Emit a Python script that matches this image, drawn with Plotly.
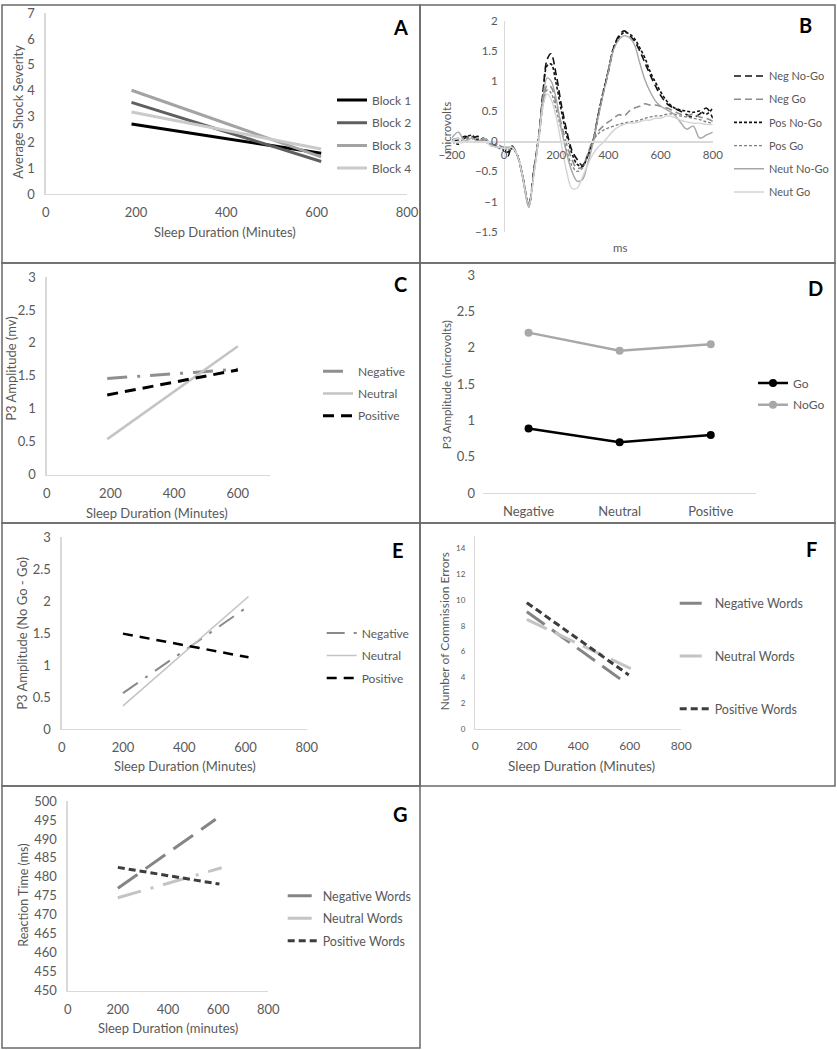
import plotly.graph_objects as go

W, H = 837, 1050

# ---------------- Panel A: shock severity by block
a_x = [190, 610]
a_block1 = [2.71, 1.58]
a_block2 = [3.55, 1.26]
a_block3 = [4.02, 1.44]
a_block4 = [3.18, 1.74]

# ---------------- Panel B: ERP waveforms
b_ms = [-200, -175, -150, -125, -100, -75, -50, -25, 0, 15, 30, 50, 70, 95,
        115, 135, 150, 165, 180, 200, 220, 240, 260, 280, 300, 320, 340, 360,
        380, 400, 420, 440, 460, 480, 500, 520, 540, 560, 580, 600, 625, 650,
        675, 700, 725, 750, 775, 800]
b_neg_nogo = [0.0, 0.02, 0.08, 0.04, 0.08, 0.0, -0.05, -0.1, -0.12, -0.25, -0.08, -0.22, -0.55, -1.05,
              -0.45, 0.15, 0.85, 1.35, 1.45, 1.1, 0.6, 0.18, -0.15, -0.3, -0.4, -0.25, -0.02, 0.4,
              0.8, 1.15, 1.55, 1.75, 1.83, 1.76, 1.66, 1.5, 1.3, 1.1, 0.92, 0.76, 0.62, 0.55,
              0.5, 0.44, 0.4, 0.45, 0.55, 0.38]
b_neg_go = [0.02, 0.05, 0.0, 0.08, 0.0, 0.02, -0.05, -0.08, -0.1, -0.15, -0.1, -0.22, -0.55, -1.05,
            -0.5, 0.1, 0.62, 0.92, 0.9, 0.62, 0.28, -0.05, -0.3, -0.45, -0.42, -0.22, 0.02, 0.16,
            0.25, 0.32, 0.38, 0.44, 0.42, 0.5, 0.55, 0.58, 0.62, 0.6, 0.6, 0.58, 0.55, 0.5,
            0.45, 0.42, 0.45, 0.4, 0.38, 0.33]
b_pos_nogo = [0.0, -0.05, 0.05, 0.1, 0.02, 0.05, -0.05, -0.1, -0.15, -0.18, -0.12, -0.22, -0.55, -1.05,
              -0.48, 0.15, 0.8, 1.25, 1.28, 0.95, 0.5, 0.1, -0.2, -0.38, -0.42, -0.25, -0.02, 0.42,
              0.82, 1.18, 1.55, 1.72, 1.8, 1.78, 1.7, 1.55, 1.38, 1.15, 0.98, 0.82, 0.66, 0.56,
              0.52, 0.5, 0.48, 0.5, 0.45, 0.55]
b_pos_go = [0.02, 0.0, 0.05, 0.05, 0.05, 0.0, -0.05, -0.05, -0.12, -0.15, -0.1, -0.22, -0.55, -1.05,
            -0.5, 0.1, 0.6, 0.85, 0.8, 0.52, 0.18, -0.15, -0.4, -0.5, -0.45, -0.25, 0.0, 0.12,
            0.18, 0.22, 0.25, 0.28, 0.3, 0.32, 0.33, 0.35, 0.38, 0.4, 0.42, 0.42, 0.45, 0.45,
            0.42, 0.4, 0.38, 0.36, 0.32, 0.3]
b_neut_nogo = [0.05, 0.15, 0.0, 0.05, 0.0, 0.05, -0.05, -0.1, -0.1, -0.1, -0.1, -0.22, -0.58, -1.1,
               -0.5, 0.15, 0.75, 1.05, 1.0, 0.7, 0.2, -0.2, -0.5, -0.66, -0.64, -0.38, -0.05, 0.38,
               0.78, 1.15, 1.52, 1.68, 1.75, 1.72, 1.6, 1.3, 1.02, 0.82, 0.67, 0.58, 0.52, 0.45,
               0.32, 0.2, 0.25, 0.05, 0.1, 0.15]
b_neut_go = [0.0, 0.05, 0.0, 0.0, -0.02, 0.0, -0.08, -0.1, -0.12, -0.12, -0.1, -0.22, -0.55, -1.05,
             -0.55, 0.1, 0.6, 0.78, 0.7, 0.4, -0.05, -0.5, -0.78, -0.78, -0.6, -0.4, -0.22, -0.1,
             -0.02, 0.08, 0.18, 0.24, 0.28, 0.3, 0.3, 0.32, 0.35, 0.35, 0.38, 0.38, 0.42, 0.4,
             0.35, 0.32, 0.3, 0.3, 0.28, 0.28]

# ---------------- Panel C: P3 amplitude by sleep
c_x = [190, 600]
c_negative = [1.46, 1.60]
c_neutral = [0.54, 1.95]
c_positive = [1.21, 1.59]

# ---------------- Panel D: P3 amplitude by condition
d_cats = ["Negative", "Neutral", "Positive"]
d_go = [0.89, 0.70, 0.80]
d_nogo = [2.21, 1.96, 2.05]

# ---------------- Panel E: No Go - Go difference
e_x = [200, 610]
e_negative = [0.56, 1.92]
e_neutral = [0.36, 2.07]
e_positive = [1.49, 1.12]

# ---------------- Panel F: commission errors
f_neg_x, f_negative = [200, 578], [9.1, 3.65]
f_neu_x, f_neutral = [200, 612], [8.5, 4.6]
f_pos_x, f_positive = [200, 596], [9.8, 4.18]

# ---------------- Panel G: reaction time
g_neg_x, g_negative = [200, 590], [477.0, 495.2]
g_neu_x, g_neutral = [200, 614], [474.5, 482.4]
g_pos_x, g_positive = [200, 605], [482.5, 478.1]

FONT = "Lato"
INK = "#595959"
AXIS = "#d9d9d9"


def fx(p):
    return p / W


def fy(p):
    return 1 - p / H


fig = go.Figure()

# panel plot areas in pixels: (x0, x1, ytop, ybottom)
boxes = {
    1: (45.7, 407, 13.3, 194),
    2: (451.8, 712.8, 20.6, 231.7),
    3: (46.7, 269.7, 277, 474.7),
    4: (483, 756.3, 275.3, 493),
    5: (61.7, 306.7, 537, 729),
    6: (475.3, 681.3, 535.8, 728.7),
    7: (67.7, 268.3, 801, 990.7),
}
xranges = {1: [0, 800], 2: [-200, 800], 3: [0, 700], 4: [-0.5, 2.5],
           5: [0, 800], 6: [0, 800], 7: [0, 800]}
yranges = {1: [0, 7], 2: [-1.5, 2], 3: [0, 3], 4: [0, 3],
           5: [0, 3], 6: [0, 15], 7: [450, 500]}
ydticks = {1: 1, 2: 0.5, 3: 0.5, 4: 0.5, 5: 0.5, 6: 2, 7: 5}


def add(n, x, y, name, color, width, dash="solid", **kw):
    fig.add_trace(go.Scatter(
        x=x, y=y, name=name, mode=kw.pop("mode", "lines"),
        line=dict(color=color, width=width, dash=dash, shape=kw.pop("shape", "linear")),
        xaxis="x" if n == 1 else f"x{n}", yaxis="y" if n == 1 else f"y{n}",
        legend="legend" if n == 1 else f"legend{n}",
        legendgroup=f"{n}-{name}", hoverinfo="skip", **kw))


# A
add(1, a_x, a_block1, "Block 1", "#000000", 3)
add(1, a_x, a_block2, "Block 2", "#5f5f5f", 3)
add(1, a_x, a_block3, "Block 3", "#a3a3a3", 3)
add(1, a_x, a_block4, "Block 4", "#cacaca", 3)

# B
sp = dict(shape="spline")
add(2, b_ms, b_neg_nogo, "Neg No-Go", "#111111", 1.6, "7px,4px", **sp)
add(2, b_ms, b_neg_go, "Neg Go", "#8c8c8c", 1.6, "7px,4px", **sp)
add(2, b_ms, b_pos_nogo, "Pos No-Go", "#111111", 1.6, "3px,2px", **sp)
add(2, b_ms, b_pos_go, "Pos Go", "#7f7f7f", 1.3, "3px,2px", **sp)
add(2, b_ms, b_neut_nogo, "Neut No-Go", "#a6a6a6", 1.4, **sp)
add(2, b_ms, b_neut_go, "Neut Go", "#d3d3d3", 1.4, **sp)

# C
add(3, c_x, c_negative, "Negative", "#8f8f8f", 3, "20px,10px,3px,10px")
add(3, c_x, c_neutral, "Neutral", "#c4c4c4", 2.5)
add(3, c_x, c_positive, "Positive", "#000000", 3, "11px,7px")

# D
add(4, d_cats, d_go, "Go", "#000000", 2.5, mode="lines+markers",
    marker=dict(size=8, color="#000000"))
add(4, d_cats, d_nogo, "NoGo", "#a8a8a8", 2.5, mode="lines+markers",
    marker=dict(size=8, color="#a8a8a8"))

# E
add(5, e_x, e_negative, "Negative", "#8a8a8a", 2, "18px,9px,3px,9px")
add(5, e_x, e_neutral, "Neutral", "#c4c4c4", 1.6)
add(5, e_x, e_positive, "Positive", "#000000", 2.5, "10px,7px")

# F
add(6, f_neg_x, f_negative, "Negative Words", "#858585", 3, "22px,9px")
add(6, f_neu_x, f_neutral, "Neutral Words", "#c4c4c4", 3, "22px,9px")
add(6, f_pos_x, f_positive, "Positive Words", "#3d3d3d", 3, "7px,4px")

# G
add(7, g_neg_x, g_negative, "Negative Words", "#858585", 3, "24px,10px")
add(7, g_neu_x, g_neutral, "Neutral Words", "#c4c4c4", 3, "24px,10px,3px,10px")
add(7, g_pos_x, g_positive, "Positive Words", "#3d3d3d", 3, "7px,4px")

layout = dict(
    width=W, height=H, paper_bgcolor="white", plot_bgcolor="white",
    margin=dict(l=0, r=0, t=0, b=0, autoexpand=False),
    font=dict(family=FONT, size=12, color=INK),
    showlegend=True,
)

tickfont = {1: 13, 2: 11.5, 3: 13, 4: 13, 5: 13, 6: 12, 7: 13}
for n, (x0, x1, yt, yb) in boxes.items():
    sx = "" if n == 1 else str(n)
    xa = dict(domain=[fx(x0), fx(x1)], anchor=f"y{sx}", range=xranges[n],
              showgrid=False, zeroline=False, showline=True, linecolor=AXIS,
              linewidth=1.3, ticks="", tickfont=dict(size=tickfont[n], color=INK),
              ticklabelstandoff=6, fixedrange=True)
    ya = dict(domain=[fy(yb), fy(yt)], anchor=f"x{sx}", range=yranges[n],
              dtick=ydticks[n], tick0=yranges[n][0],
              showgrid=False, zeroline=False, showline=True, linecolor=AXIS,
              linewidth=1.3, ticks="", tickfont=dict(size=tickfont[n], color=INK),
              ticklabelstandoff=7, fixedrange=True)
    if n != 4:
        xa["dtick"] = 200
        xa["tick0"] = 0
    else:
        ya["showline"] = False
    layout[f"xaxis{sx}"] = xa
    layout[f"yaxis{sx}"] = ya

# F: small y tick labels
layout["yaxis6"]["tickfont"] = dict(size=8, color=INK)

# B: axes cross at zero
bx0, bx1, byt, byb = boxes[2]
yr, xr = yranges[2], xranges[2]
zero_y = fy(byb) + (0 - yr[0]) / (yr[1] - yr[0]) * (fy(byt) - fy(byb))
zero_x = fx(bx0) + (0 - xr[0]) / (xr[1] - xr[0]) * (fx(bx1) - fx(bx0))
layout["xaxis2"].update(anchor="free", position=zero_y, ticklabelstandoff=3)
layout["yaxis2"].update(anchor="free", position=zero_x, ticklabelstandoff=4)

# legends: (text left x, first row y, row spacing, font size)
legs = {1: (372, 100, 22.7, 12), 2: (769, 76, 23.2, 11), 3: (358, 371.3, 22.2, 12),
        4: (793, 383, 21.7, 12), 5: (361.7, 633, 22.5, 12), 6: (714.7, 603, 52.5, 12.5),
        7: (322.7, 895.7, 22.2, 12.5)}
for n, (tx, ty, gap, fs) in legs.items():
    key = "legend" if n == 1 else f"legend{n}"
    layout[key] = dict(x=fx(tx - 40), y=fy(ty - 14.5), xanchor="left", yanchor="top",
                       bgcolor="rgba(0,0,0,0)", borderwidth=0,
                       font=dict(family=FONT, size=fs, color=INK),
                       tracegroupgap=max(gap - 19, 0), traceorder="grouped")

# axis titles and panel letters
titles = [
    ("Sleep Duration (Minutes)", 225, 231.7, 0, 13),
    ("Average Shock Severity", 18, 111.7, -90, 13),
    ("ms", 620, 247, 0, 11.5),
    ("microvolts", 446, 128, -90, 11.5),
    ("Sleep Duration (Minutes)", 157, 513, 0, 13),
    ("P3 Amplitude (mv)", 11, 368.7, -90, 13),
    ("P3 Amplitude (microvolts)", 446.3, 385, -90, 11.5),
    ("Sleep Duration (Minutes)", 185, 766.3, 0, 13),
    ("P3 Amplitude (No Go - Go)", 21.7, 633, -90, 13),
    ("Sleep Duration (Minutes)", 581.3, 766.3, 0, 13.5),
    ("Number of Commission Errors", 444, 631.3, -90, 12),
    ("Sleep Duration (minutes)", 167.7, 1028.3, 0, 13),
    ("Reaction Time (ms)", 22.7, 895, -90, 12.5),
]
ann = []
for text, x, y, ang, fs in titles:
    ann.append(dict(text=text, x=fx(x), y=fy(y), xref="paper", yref="paper",
                    showarrow=False, textangle=ang, xanchor="center", yanchor="middle",
                    font=dict(family=FONT, size=fs, color=INK)))
letters = [("A", 400, 27), ("B", 805, 25), ("C", 400, 284), ("D", 815, 288),
           ("E", 398, 550), ("F", 811, 549), ("G", 400, 814)]
for t, x, y in letters:
    ann.append(dict(text=f"<b>{t}</b>", x=fx(x), y=fy(y), xref="paper", yref="paper",
                    showarrow=False, xanchor="center", yanchor="middle",
                    font=dict(family=FONT, size=20, color="#000000")))
layout["annotations"] = ann

# panel frames
frames = [(2, 5, 420, 263), (420, 5, 835, 263), (2, 263, 420, 523), (420, 263, 835, 523),
          (2, 523, 420, 786), (420, 523, 835, 786), (2, 786, 420, 1048)]
layout["shapes"] = [dict(type="rect", xref="paper", yref="paper",
                         x0=fx(a), x1=fx(c), y0=fy(d), y1=fy(b),
                         line=dict(color="#6a6a6a", width=1.5), layer="above")
                    for a, b, c, d in frames]

fig.update_layout(**layout)
fig.write_html("out.html", config={"staticPlot": True},
               post_script="document.body.style.margin='0';")
